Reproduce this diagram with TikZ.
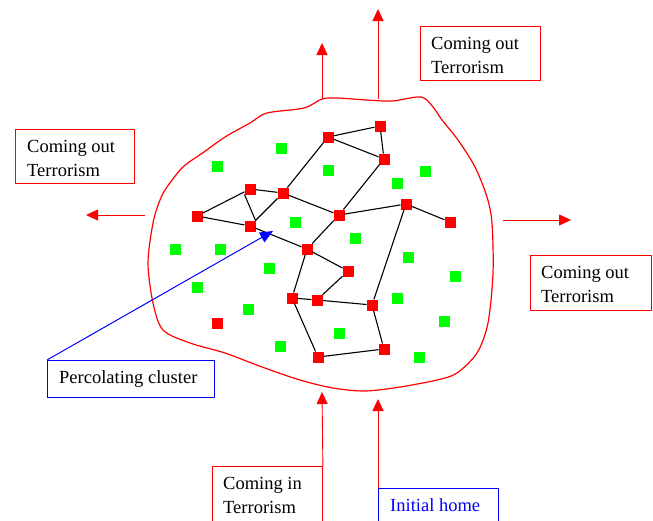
\documentclass[tikz,border=0pt]{standalone}
\usepackage{fontspec}
\setmainfont{Liberation Serif}
\usetikzlibrary{arrows.meta}
\begin{document}
\begin{tikzpicture}[x=1pt,y=-1pt,
  rsq/.style={fill=red, minimum size=11pt, inner sep=0pt, outer sep=0pt},
  gsq/.style={fill=green, minimum size=11pt, inner sep=0pt, outer sep=0pt},
  link/.style={black, line width=1.1pt},
  flow/.style={red, line width=0.9pt, -{Triangle[length=12pt,width=11pt]}},
  pointer/.style={blue, line width=1pt, -{Triangle[length=13pt,width=11pt]}},
  rbox/.style={draw=red, line width=0.9pt, anchor=north west, inner sep=0pt},
  bbox/.style={draw=blue, line width=0.9pt, anchor=north west, inner sep=0pt},
  txt/.style={anchor=base west, inner sep=0pt, font=\fontsize{18.5}{24}\selectfont, align=left},
]
\useasboundingbox (0,0) rectangle (653,520);
\clip (0,0) rectangle (653,520);

% region outline
\draw[red, line width=1.2pt] plot[smooth cycle, tension=0.5] coordinates {
 (160,200) (167,187) (183,167) (204,152) (225,137) (250,123) (267,113) (304,108)
 (322,99) (337,98) (367,100) (392,101) (421,97) (433,107) (442,120) (458,140)
 (475,167) (487,197) (492,223) (493,273) (488,323) (477,353) (457,373) (437,380)
 (400,387) (365,391) (333,388) (300,380) (262,367) (225,353) (190,343) (163,330)
 (153,303) (148,263) (153,223)};

% green squares
\foreach \x/\y [count=\i] in {281/148,217/166,328/170,425/171,397/183,295/222,355/238,
  175/249,220/249,408/257,269/268,455/276,197/287,397/298,248/309,444/321,339/333,280/346,419/357}
  \node[gsq] (g\i) at (\x,\y) {};

% red squares
\node[rsq] (A) at (328,137) {};
\node[rsq] (B) at (380,126) {};
\node[rsq] (C) at (384,159) {};
\node[rsq] (D) at (250,189) {};
\node[rsq] (E) at (283,193) {};
\node[rsq] (F) at (197,216) {};
\node[rsq] (G) at (250,226) {};
\node[rsq] (H) at (339,215) {};
\node[rsq] (I) at (406,204) {};
\node[rsq] (J) at (450,222) {};
\node[rsq] (K) at (307,249) {};
\node[rsq] (L) at (348,271) {};
\node[rsq] (M) at (292,298) {};
\node[rsq] (N) at (317,300) {};
\node[rsq] (O) at (372,305) {};
\node[rsq] (P) at (217,323) {};
\node[rsq] (Q) at (318,357) {};
\node[rsq] (R) at (384,349) {};

% cluster links
\draw[link] (A)--(B) (B)--(C) (A)--(C) (A)--(E) (C)--(H) (D)--(E) (D)--(F) (F)--(G)
  (D.south west)--(G.north east) (G)--(E) (E)--(H) (G)--(K) (H)--(K) (H)--(I) (I)--(J) (I)--(O)
  (K)--(L) (K)--(M) (L)--(N) (M)--(N) (N)--(O) (M)--(Q) (O)--(R) (Q)--(R);

% boxes
\node[rbox, minimum width=120pt, minimum height=54pt] (trbox) at (420,26) {};
\node[txt] (trtxt) at (431,73) {Coming out\\Terrorism};
\node[rbox, minimum width=119pt, minimum height=54pt] (lbox) at (15,129) {};
\node[txt] (ltxt) at (27,176) {Coming out\\Terrorism};
\node[rbox, minimum width=121pt, minimum height=55pt] (rbox) at (530,255) {};
\node[txt] (rtxt) at (541,302) {Coming out\\Terrorism};
\node[rbox, minimum width=110pt, minimum height=70pt] (cinbox) at (212,466) {};
\node[txt] (cintxt) at (223,513) {Coming in\\Terrorism};
\node[bbox, minimum width=120pt, minimum height=50pt] (homebox) at (378,488) {};
\node[txt, blue] (hometxt) at (390,511) {Initial home};
\node[bbox, minimum width=167pt, minimum height=37pt] (pcbox) at (47,360) {};
\node[txt] (pctxt) at (59,383) {Percolating cluster};

% arrows
\coordinate (t1s) at (322,99);  \coordinate (t1e) at (322,43);
\coordinate (t2s) at (378,99);  \coordinate (t2e) at (378,9);
\coordinate (ls) at (145,215);  \coordinate (le) at (86,215);
\coordinate (rs) at (503,220);  \coordinate (re) at (571,220);
\coordinate (b1e) at (322,392);
\coordinate (b2e) at (378,399);
\coordinate (pce) at (273,231);
\draw[flow] (t1s) -- (t1e);
\draw[flow] (t2s) -- (t2e);
\draw[flow] (ls) -- (le);
\draw[flow] (rs) -- (re);
\draw[flow] (cinbox.north east) -- (b1e);
\draw[flow] (homebox.north west) -- (b2e);
\draw[pointer] (pcbox.north west) -- (pce);
\end{tikzpicture}
\end{document}
